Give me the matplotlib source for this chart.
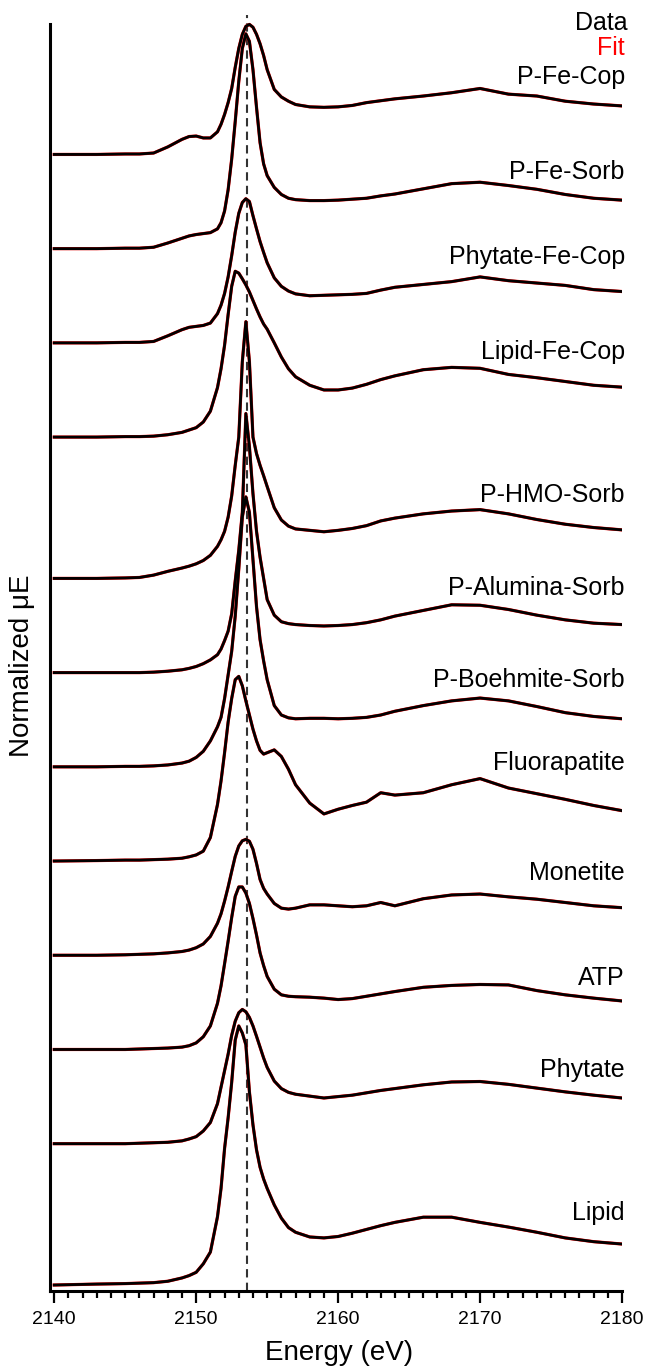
import matplotlib.pyplot as plt
from matplotlib.ticker import MultipleLocator

plt.rcParams['font.family'] = ['Liberation Sans', 'DejaVu Sans']

# energy grid (eV), finer around the white line
energy = [2140, 2143, 2145, 2146, 2147, 2148, 2149, 2149.5, 2150, 2150.5,
          2151, 2151.5, 2151.75, 2152, 2152.25, 2152.5, 2152.75, 2153, 2153.25, 2153.5,
          2153.75, 2154, 2154.25, 2154.5, 2154.75, 2155, 2155.5, 2156, 2156.5, 2157,
          2158, 2159, 2160, 2161, 2162, 2163, 2164, 2166, 2168, 2170,
          2172, 2174, 2176, 2178, 2180]

# normalized spectra (edge step = 1)
p_fe_cop = [0, 0, 0.01, 0.01, 0.03, 0.16, 0.32, 0.38, 0.39, 0.35,
            0.35, 0.48, 0.64, 0.85, 1.10, 1.40, 1.85, 2.25, 2.55, 2.72,
            2.76, 2.70, 2.55, 2.35, 2.10, 1.80, 1.38, 1.22, 1.13, 1.06,
            1.01, 1.00, 1.01, 1.04, 1.10, 1.14, 1.18, 1.24, 1.31, 1.40,
            1.28, 1.24, 1.13, 1.07, 1.03]
p_fe_sorb = [0, 0, 0.01, 0.01, 0.03, 0.12, 0.22, 0.27, 0.30, 0.32,
             0.34, 0.42, 0.55, 0.80, 1.25, 1.90, 2.70, 3.55, 4.25, 4.56,
             4.40, 3.80, 3.00, 2.25, 1.80, 1.55, 1.30, 1.15, 1.07, 1.04,
             1.02, 1.02, 1.03, 1.05, 1.07, 1.12, 1.16, 1.27, 1.38, 1.41,
             1.34, 1.26, 1.15, 1.07, 1.03]
phytate_fe_cop = [0, 0, 0.01, 0.01, 0.03, 0.15, 0.28, 0.33, 0.35, 0.37,
                  0.42, 0.62, 0.80, 1.05, 1.40, 1.85, 2.35, 2.75, 2.98, 3.06,
                  3.00, 2.70, 2.42, 2.15, 1.92, 1.70, 1.38, 1.20, 1.10, 1.04,
                  1.00, 1.01, 1.02, 1.03, 1.05, 1.12, 1.18, 1.24, 1.30, 1.40,
                  1.32, 1.27, 1.22, 1.13, 1.09]
lipid_fe_cop = [0, 0, 0.01, 0.01, 0.02, 0.05, 0.10, 0.15, 0.20, 0.32,
                0.55, 1.05, 1.45, 1.95, 2.60, 3.20, 3.52, 3.48, 3.36, 3.23,
                3.08, 2.90, 2.72, 2.55, 2.40, 2.29, 2.00, 1.70, 1.45, 1.28,
                1.10, 1.00, 1.00, 1.04, 1.12, 1.22, 1.30, 1.43, 1.48, 1.46,
                1.33, 1.26, 1.18, 1.10, 1.06]
p_hmo_sorb = [0, 0, 0.01, 0.02, 0.07, 0.15, 0.22, 0.26, 0.31, 0.38,
              0.49, 0.68, 0.82, 1.00, 1.30, 1.75, 2.40, 3.00, 4.60, 5.45,
              4.60, 3.00, 2.65, 2.40, 2.18, 1.95, 1.50, 1.24, 1.11, 1.05,
              1.02, 0.99, 1.02, 1.06, 1.12, 1.22, 1.28, 1.37, 1.43, 1.46,
              1.37, 1.25, 1.15, 1.08, 1.03]
p_alumina_sorb = [0, 0, 0, 0, 0.01, 0.03, 0.06, 0.09, 0.13, 0.19,
                  0.27, 0.38, 0.50, 0.68, 0.88, 1.25, 1.95, 2.60, 3.40, 5.50,
                  4.80, 3.80, 3.00, 2.45, 2.00, 1.55, 1.22, 1.08, 1.04, 1.02,
                  1.00, 0.99, 1.00, 1.02, 1.06, 1.12, 1.20, 1.32, 1.44, 1.43,
                  1.34, 1.22, 1.12, 1.05, 1.02]
p_boehmite_sorb = [0, 0, 0.01, 0.01, 0.02, 0.04, 0.08, 0.12, 0.20, 0.33,
                   0.55, 0.85, 1.05, 1.45, 1.95, 2.45, 3.20, 4.20, 5.30, 5.73,
                   5.40, 4.40, 3.40, 2.70, 2.25, 1.85, 1.30, 1.10, 1.04, 1.02,
                   1.03, 1.03, 1.02, 1.03, 1.05, 1.10, 1.18, 1.30, 1.40, 1.46,
                   1.40, 1.28, 1.15, 1.07, 1.02]
fluorapatite = [0, 0.01, 0.02, 0.02, 0.03, 0.04, 0.06, 0.09, 0.13, 0.21,
                0.50, 1.20, 1.70, 2.30, 2.95, 3.45, 3.85, 3.92, 3.72, 3.40,
                3.10, 2.80, 2.55, 2.35, 2.27, 2.30, 2.36, 2.22, 1.95, 1.62,
                1.23, 1.00, 1.10, 1.18, 1.25, 1.45, 1.40, 1.45, 1.62, 1.75,
                1.55, 1.43, 1.31, 1.18, 1.07]
monetite = [0, 0, 0.01, 0.02, 0.03, 0.05, 0.08, 0.11, 0.16, 0.24,
            0.40, 0.68, 0.88, 1.15, 1.45, 1.78, 2.10, 2.32, 2.43, 2.46,
            2.42, 2.25, 1.95, 1.61, 1.42, 1.30, 1.10, 1.00, 0.98, 1.00,
            1.07, 1.07, 1.05, 1.03, 1.05, 1.12, 1.05, 1.20, 1.28, 1.30,
            1.24, 1.19, 1.12, 1.05, 1.01]
atp = [0, 0, 0, 0.01, 0.02, 0.03, 0.05, 0.08, 0.14, 0.27,
       0.50, 0.98, 1.35, 1.82, 2.30, 2.80, 3.25, 3.45, 3.45, 3.32,
       3.10, 2.78, 2.43, 2.05, 1.78, 1.55, 1.28, 1.16, 1.13, 1.12,
       1.11, 1.09, 1.06, 1.08, 1.13, 1.18, 1.23, 1.32, 1.36, 1.38,
       1.37, 1.25, 1.16, 1.09, 1.03]
phytate = [0, 0, 0, 0.01, 0.02, 0.03, 0.06, 0.10, 0.15, 0.27,
           0.45, 0.85, 1.20, 1.55, 1.90, 2.30, 2.60, 2.78, 2.85, 2.80,
           2.68, 2.50, 2.28, 2.05, 1.82, 1.62, 1.33, 1.17, 1.09, 1.05,
           1.01, 0.97, 1.00, 1.03, 1.08, 1.13, 1.17, 1.25, 1.31, 1.32,
           1.26, 1.18, 1.10, 1.03, 0.97]
lipid = [0, 0.02, 0.03, 0.04, 0.05, 0.08, 0.15, 0.20, 0.27, 0.45,
         0.70, 1.45, 2.05, 2.90, 3.55, 4.30, 5.20, 5.50, 5.35, 5.10,
         4.10, 3.40, 2.87, 2.50, 2.25, 2.05, 1.70, 1.42, 1.22, 1.12,
         1.02, 1.00, 1.03, 1.10, 1.18, 1.26, 1.33, 1.44, 1.44, 1.33,
         1.23, 1.12, 1.00, 0.92, 0.87]

names = ['P-Fe-Cop', 'P-Fe-Sorb', 'Phytate-Fe-Cop', 'Lipid-Fe-Cop', 'P-HMO-Sorb',
         'P-Alumina-Sorb', 'P-Boehmite-Sorb', 'Fluorapatite', 'Monetite', 'ATP',
         'Phytate', 'Lipid']
spectra = [p_fe_cop, p_fe_sorb, phytate_fe_cop, lipid_fe_cop, p_hmo_sorb,
           p_alumina_sorb, p_boehmite_sorb, fluorapatite, monetite, atp,
           phytate, lipid]
offsets = [24, 22, 20, 18, 15, 13, 11, 9, 7, 5, 3, 0]
label_dy = [1.65, 1.63, 1.83, 1.81, 1.77, 1.80, 1.85, 2.08, 1.75, 1.52, 1.56, 1.53]
e_ref = 2153.55

fig = plt.figure(figsize=(6.46, 13.68), dpi=100)
ax = fig.add_axes([50 / 646, 77 / 1368, 572 / 646, 1276 / 1368])

for name, y, off, dy in zip(names, spectra, offsets, label_dy):
    yy = [v + off for v in y]
    ax.plot(energy, yy, color='red', lw=2.3, zorder=2)   # fit
    ax.plot(energy, yy, color='black', lw=2.0, zorder=3)  # data
    ax.text(2180.2, off + dy, name, ha='right', va='center', fontsize=18)

ax.text(2180.4, 26.8, 'Data', ha='right', va='center', fontsize=18, color='black')
ax.text(2180.2, 26.26, 'Fit', ha='right', va='center', fontsize=18, color='red')

ax.axvline(e_ref, color='#333333', lw=1.5, ls=(0, (4, 2.5)), zorder=1)

ax.set_xlim(2139.7, 2180)
ax.set_ylim(-0.127, 26.96)
ax.xaxis.set_major_locator(MultipleLocator(10))
ax.xaxis.set_minor_locator(MultipleLocator(1))
ax.tick_params(axis='x', which='major', direction='out', length=8.5, width=1.6,
               labelsize=14, pad=6)
ax.tick_params(axis='x', which='minor', direction='out', length=5, width=1.6)
ax.set_yticks([])
for s in ['top', 'right']:
    ax.spines[s].set_visible(False)
ax.spines['left'].set_linewidth(2.2)
ax.spines['bottom'].set_linewidth(2.2)
ax.spines['left'].set_bounds(-0.127, 26.77)

fig.text(339 / 646, 1 - 1353 / 1368, 'Energy (eV)', ha='center', va='center', fontsize=20)
fig.text(22 / 646, 1 - 666 / 1368, 'Normalized μE', ha='center', va='center',
         rotation=90, fontsize=20)

fig.savefig('out.png', dpi=100)
